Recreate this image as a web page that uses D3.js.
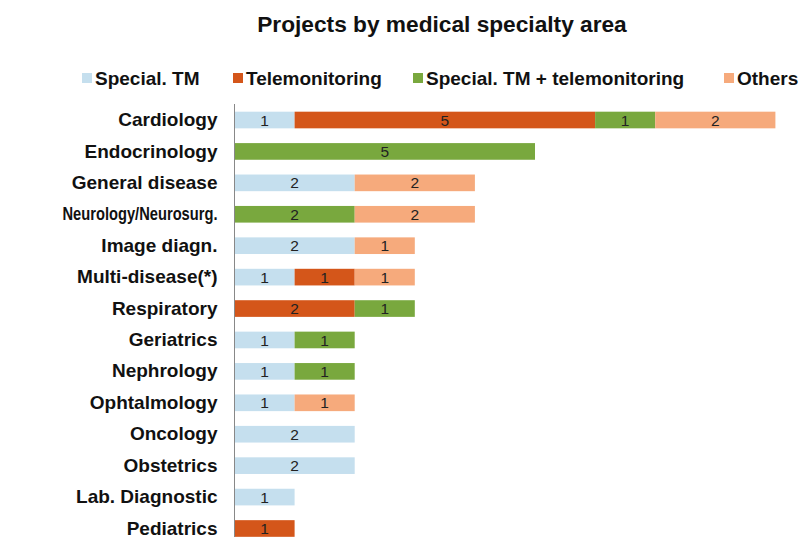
<!DOCTYPE html>
<html>
<head>
<meta charset="utf-8">
<script src="https://cdn.jsdelivr.net/npm/d3@7"></script>
<style>
  body { margin: 0; background: #fff; }
  svg { display: block; font-family: "Liberation Sans", Arial, sans-serif; }
</style>
</head>
<body>
<svg></svg>
<script>
let categories = ['Cardiology', 'Endocrinology', 'General disease', 'Neurology/Neurosurg.', 'Image diagn.',
  'Multi-disease(*)', 'Respiratory', 'Geriatrics', 'Nephrology', 'Ophtalmology', 'Oncology',
  'Obstetrics', 'Lab. Diagnostic', 'Pediatrics']
let seriesNames = ['Special. TM', 'Telemonitoring', 'Special. TM + telemonitoring', 'Others']
let specialTM      = [1, 0, 2, 0, 2, 1, 0, 1, 1, 1, 2, 2, 1, 0]
let telemonitoring = [5, 0, 0, 0, 0, 1, 2, 0, 0, 0, 0, 0, 0, 1]
let combined       = [1, 5, 0, 2, 0, 0, 1, 1, 1, 0, 0, 0, 0, 0]
let others         = [2, 0, 2, 2, 1, 1, 0, 0, 0, 1, 0, 0, 0, 0]
let colors = ['#c5dfee', '#d4561a', '#79a83e', '#f6aa7c']

let width = 799
let height = 537

let svg = d3.select('svg').attr('width', width).attr('height', height)

// build rows for the stack
let rows = categories.map((c, i) => ({
  cat: c,
  s0: specialTM[i], s1: telemonitoring[i], s2: combined[i], s3: others[i]
}))
let stacked = d3.stack().keys(['s0', 's1', 's2', 's3'])(rows)

let xScale = d3.scaleLinear().domain([0, 9]).range([234.5, 775.4])
let yScale = d3.scaleBand().domain(categories).range([104.3, 544.2])
  .paddingInner(0.47).paddingOuter(0.235)

// title
svg.append('text')
  .attr('x', 442).attr('y', 32)
  .attr('text-anchor', 'middle')
  .style('font-size', '22.7px').style('font-weight', 'bold').attr('fill', '#111')
  .text('Projects by medical specialty area')

// legend
let legendX = [82, 233, 413, 724]
let legend = svg.append('g')
seriesNames.forEach((name, i) => {
  let g = legend.append('g').attr('transform', 'translate(' + legendX[i] + ',0)')
  g.append('rect').attr('x', 0).attr('y', 73).attr('width', 10).attr('height', 10).attr('fill', colors[i])
  g.append('text').attr('x', 13).attr('y', 85)
    .style('font-size', '19px').style('font-weight', 'bold').attr('fill', '#111')
    .text(name)
})

// bars
let layers = svg.append('g').selectAll('g')
  .data(stacked)
  .enter().append('g')
  .attr('fill', (d, i) => colors[i])

layers.selectAll('rect')
  .data(d => d.filter(p => p[1] - p[0] > 0))
  .enter().append('rect')
  .attr('x', d => xScale(d[0]))
  .attr('y', d => yScale(d.data.cat))
  .attr('width', d => xScale(d[1]) - xScale(d[0]))
  .attr('height', yScale.bandwidth())

layers.selectAll('text')
  .data(d => d.filter(p => p[1] - p[0] > 0))
  .enter().append('text')
  .attr('x', d => (xScale(d[0]) + xScale(d[1])) / 2)
  .attr('y', d => yScale(d.data.cat) + yScale.bandwidth() / 2)
  .attr('dy', '0.36em')
  .attr('text-anchor', 'middle')
  .attr('fill', '#222')
  .style('font-size', '15.5px')
  .text(d => d[1] - d[0])

// y axis: labels + line
let yAxis = d3.axisLeft(yScale).tickSize(0).tickPadding(17)
let yg = svg.append('g').attr('transform', 'translate(234.5,0)').call(yAxis)
yg.select('.domain').remove()
yg.selectAll('text')
  .style('font-size', '19px').style('font-weight', 'bold')
  .style('font-family', '"Liberation Sans", Arial, sans-serif').attr('fill', '#111')
  .each(function () {
    // the long label is squeezed in the original
    if (this.getComputedTextLength() > 160) {
      d3.select(this).attr('textLength', 155).attr('lengthAdjust', 'spacingAndGlyphs')
    }
  })

svg.append('line')
  .attr('x1', 234.5).attr('x2', 234.5)
  .attr('y1', 104).attr('y2', height)
  .attr('stroke', '#888').attr('stroke-width', 1)
</script>
</body>
</html>
